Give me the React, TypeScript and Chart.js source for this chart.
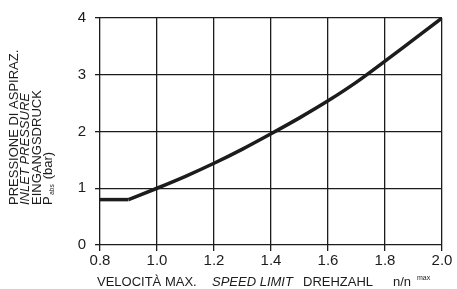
import React, { useEffect, useRef } from "react";
import { Chart, registerables } from "chart.js";

Chart.register(...registerables);

const speedRatio = [0.8, 0.9, 1.0, 1.1, 1.2, 1.3, 1.4, 1.5, 1.6, 1.7, 1.8, 1.9, 2.0];
const inletPressure = [0.8, 0.8, 1.0, 1.21, 1.44, 1.69, 1.96, 2.24, 2.54, 2.87, 3.24, 3.62, 4.0];

const xMin = 0.8;
const xMax = 2.0;
const xStep = 0.2;
const yMin = 0;
const yMax = 4;
const yStep = 1;

const yTitleLines = ["PRESSIONE DI ASPIRAZ.", "INLET PRESSURE", "EINGANGSDRUCK"];
const xTitleParts = ["VELOCITÀ MAX.", "SPEED LIMIT", "DREHZAHL", "n/n", "max"];

const FONT = '"Liberation Sans", Arial, Helvetica, sans-serif';
const INK = "#1c1c1c";

const titlesPlugin = {
  id: "titles",
  afterDraw(chart: any) {
    const ctx = chart.ctx as CanvasRenderingContext2D;
    ctx.save();
    ctx.fillStyle = INK;
    const xs = [14, 25.5, 37, 48.5];
    const yStart = 205;
    ctx.textBaseline = "middle";
    ctx.textAlign = "left";
    yTitleLines.forEach((t, i) => {
      ctx.save();
      ctx.translate(xs[i], yStart);
      ctx.rotate(-Math.PI / 2);
      ctx.font = (i === 1 ? "italic " : "") + "13px " + FONT;
      ctx.fillText(t, 0, 0);
      ctx.restore();
    });
    ctx.save();
    ctx.translate(xs[3], yStart);
    ctx.rotate(-Math.PI / 2);
    ctx.font = "13px " + FONT;
    ctx.fillText("P", 0, 0);
    const pw = ctx.measureText("P").width;
    ctx.font = "6.5px " + FONT;
    ctx.fillText("abs", pw + 1.5, 3.5);
    const aw = ctx.measureText("abs").width;
    ctx.font = "13px " + FONT;
    ctx.fillText("(bar)", pw + 1.5 + aw + 5, 0);
    ctx.restore();

    const by = 286;
    ctx.textBaseline = "alphabetic";
    ctx.font = "13px " + FONT;
    ctx.fillText(xTitleParts[0], 97, by);
    ctx.font = "italic 13px " + FONT;
    ctx.fillText(xTitleParts[1], 212, by);
    ctx.font = "13px " + FONT;
    ctx.fillText(xTitleParts[2], 303, by);
    ctx.fillText(xTitleParts[3], 393, by);
    ctx.font = "7px " + FONT;
    ctx.fillText(xTitleParts[4], 417, by - 6);
    ctx.restore();
  },
};

export default function App() {
  const ref = useRef<HTMLCanvasElement | null>(null);
  useEffect(() => {
    if (!ref.current) return;
    const pts = speedRatio.map((x, i) => ({ x, y: inletPressure[i] }));
    const common = {
      borderColor: INK,
      borderWidth: 3.5,
      pointRadius: 0,
      borderJoinStyle: "round",
      borderCapStyle: "butt",
      fill: false,
    };
    const chart = new Chart(ref.current, {
      type: "line",
      data: {
        datasets: [
          { ...common, data: pts.slice(0, 2), tension: 0 },
          { ...common, data: pts.slice(1), cubicInterpolationMode: "monotone" },
        ],
      },
      options: {
        animation: false,
        responsive: false,
        events: [],
        layout: { padding: { top: 17, right: 15, left: 0, bottom: 0 } },
        plugins: { legend: { display: false }, tooltip: { enabled: false } },
        scales: {
          x: {
            type: "linear",
            min: xMin,
            max: xMax,
            afterFit: (s: any) => {
              s.height = 44;
            },
            afterBuildTicks: (s: any) => {
              const t = [];
              for (let v = xMin; v <= xMax + 1e-9; v += xStep) t.push({ value: Math.round(v * 10) / 10 });
              s.ticks = t;
            },
            ticks: {
              color: INK,
              font: { family: FONT, size: 15 },
              padding: 1,
              maxRotation: 0,
              autoSkip: false,
              callback: (v: any) => Number(v).toFixed(1),
            },
            grid: { color: INK, lineWidth: 1.3, tickLength: 6, drawTicks: true },
            border: { display: false },
          },
          y: {
            type: "linear",
            min: yMin,
            max: yMax,
            afterFit: (s: any) => {
              s.width = 100;
            },
            ticks: {
              stepSize: yStep,
              color: INK,
              font: { family: FONT, size: 15 },
              padding: 9,
            },
            grid: { color: INK, lineWidth: 1.3, tickLength: 5, drawTicks: true },
            border: { display: false },
          },
        },
      },
      plugins: [titlesPlugin],
    } as any);
    return () => chart.destroy();
  }, []);
  return (
    <div style={{ position: "fixed", left: 0, top: 0, width: 457, height: 289, background: "#fff" }}>
      <canvas ref={ref} width={457} height={289} style={{ width: 457, height: 289 }} />
    </div>
  );
}
